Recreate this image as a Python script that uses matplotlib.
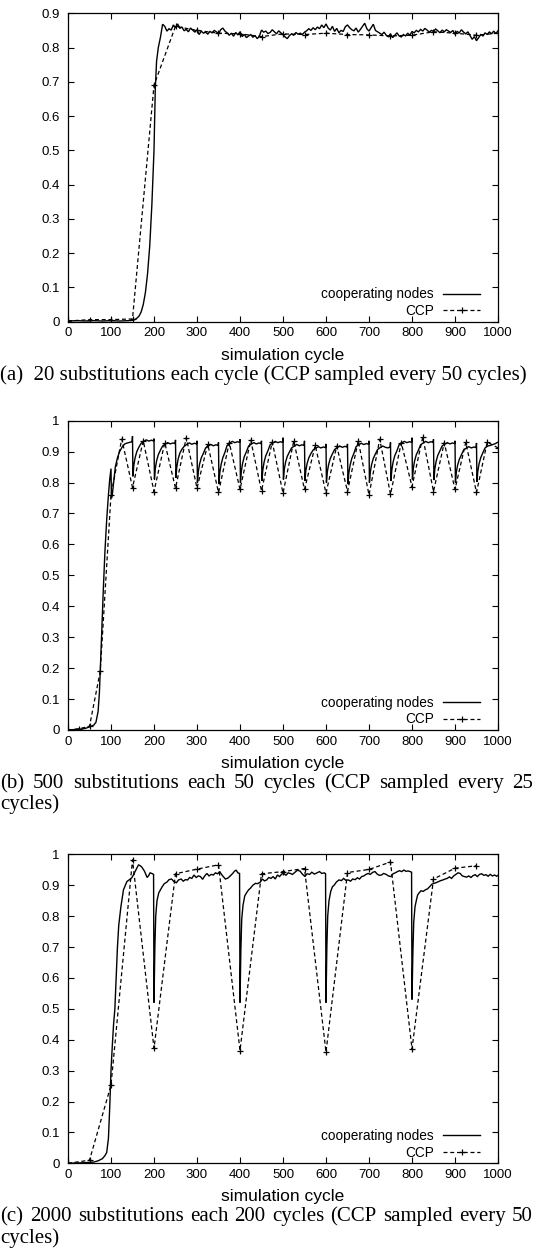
import matplotlib
matplotlib.use("Agg")
import matplotlib.pyplot as plt

# ---------------- data ----------------
x_ticks = [0, 100, 200, 300, 400, 500, 600, 700, 800, 900, 1000]
x_tick_labels = ["0", "100", "200", "300", "400", "500", "600", "700", "800", "900", "1000"]
y_ticks_a = [0, 0.1, 0.2, 0.3, 0.4, 0.5, 0.6, 0.7, 0.8, 0.9]
y_tick_labels_a = ["0", "0.1", "0.2", "0.3", "0.4", "0.5", "0.6", "0.7", "0.8", "0.9"]
y_ticks_bc = [0, 0.1, 0.2, 0.3, 0.4, 0.5, 0.6, 0.7, 0.8, 0.9, 1.0]
y_tick_labels_bc = ["0", "0.1", "0.2", "0.3", "0.4", "0.5", "0.6", "0.7", "0.8", "0.9", "1"]

series_labels = ["cooperating nodes", "CCP"]
x_label = "simulation cycle"
captions = [
    ["(a)  20 substitutions each cycle (CCP sampled every 50 cycles)"],
    ["(b)  500 substitutions each 50 cycles (CCP sampled every 25", "cycles)"],
    ["(c)  2000 substitutions each 200 cycles (CCP sampled every 50", "cycles)"],
]

# panel (a): cooperating nodes
a_rise_x = [0, 20, 40, 60, 80, 100, 120, 140, 150, 155, 160, 165, 170, 175, 180, 185,
            190, 195, 200, 203, 206, 210, 215, 220]
a_rise_y = [0.002, 0.003, 0.002, 0.003, 0.002, 0.003, 0.002, 0.003, 0.004, 0.006, 0.010,
            0.016, 0.028, 0.050, 0.085, 0.140, 0.220, 0.340, 0.500, 0.680, 0.760, 0.800,
            0.830, 0.868]
a_plateau_x = list(range(225, 1001, 5))
a_plateau_y = [
    0.862, 0.848, 0.855, 0.851, 0.866, 0.858, 0.869, 0.856, 0.860, 0.849,
    0.853, 0.846, 0.857, 0.851, 0.845, 0.852, 0.838, 0.848, 0.842, 0.845,
    0.839, 0.847, 0.843, 0.850, 0.846, 0.840, 0.852, 0.857, 0.848, 0.843,
    0.836, 0.842, 0.833, 0.844, 0.837, 0.846, 0.832, 0.838, 0.829, 0.834,
    0.838, 0.830, 0.835, 0.826, 0.833, 0.851, 0.845, 0.848, 0.841, 0.844,
    0.852, 0.846, 0.840, 0.849, 0.843, 0.838, 0.831, 0.826, 0.835, 0.840,
    0.836, 0.844, 0.839, 0.842, 0.838, 0.845, 0.849, 0.855, 0.850, 0.858,
    0.852, 0.860, 0.855, 0.866, 0.858, 0.869, 0.857, 0.851, 0.862, 0.847,
    0.856, 0.843, 0.850, 0.847, 0.861, 0.866, 0.858, 0.852, 0.849, 0.857,
    0.845, 0.853, 0.862, 0.871, 0.855, 0.848, 0.858, 0.868, 0.850, 0.846,
    0.842, 0.838, 0.845, 0.836, 0.832, 0.840, 0.829, 0.836, 0.843, 0.834,
    0.831, 0.838, 0.834, 0.842, 0.836, 0.847, 0.843, 0.850, 0.846, 0.853,
    0.848, 0.856, 0.851, 0.845, 0.850, 0.847, 0.854, 0.849, 0.843, 0.851,
    0.846, 0.852, 0.848, 0.844, 0.850, 0.839, 0.847, 0.843, 0.852, 0.845,
    0.840, 0.846, 0.835, 0.824, 0.832, 0.820, 0.829, 0.838, 0.834, 0.843,
    0.838, 0.846, 0.840, 0.848, 0.841, 0.849,
]
# panel (a): CCP sampled every 50 cycles
a_ccp_x = [0, 50, 100, 150, 200, 250, 300, 350, 400, 450, 500, 550, 600, 650, 700,
           750, 800, 850, 900, 950, 1000]
a_ccp_y = [0.002, 0.006, 0.006, 0.008, 0.690, 0.862, 0.850, 0.842, 0.840, 0.832, 0.840,
           0.838, 0.842, 0.838, 0.837, 0.834, 0.836, 0.846, 0.842, 0.836, 0.842]

# panel (b): cooperating nodes
b_start_x = [0, 10, 20, 30, 40, 50, 55, 60, 65, 70, 73, 75, 78, 82, 86, 90, 94, 97,
             100, 101, 103, 106, 110, 115, 120, 126, 132, 138, 144, 149]
b_start_y = [0.000, 0.001, 0.002, 0.003, 0.005, 0.010, 0.013, 0.016, 0.025, 0.060,
             0.120, 0.190, 0.300, 0.450, 0.580, 0.680, 0.760, 0.810, 0.845, 0.750,
             0.760, 0.800, 0.850, 0.880, 0.900, 0.915, 0.925, 0.928, 0.930, 0.932]
b_period_start = [150, 200, 250, 300, 350, 400, 450, 500, 550, 600, 650, 700, 750, 800,
                  850, 900, 950]
b_period_offset = [0, 1, 3, 6, 10, 15, 20, 26, 32, 38, 44, 49]
b_period_y = [
    [0.950, 0.820, 0.855, 0.880, 0.900, 0.915, 0.927, 0.933, 0.938, 0.934, 0.937, 0.935],
    [0.942, 0.810, 0.845, 0.870, 0.890, 0.905, 0.918, 0.924, 0.929, 0.925, 0.928, 0.926],
    [0.938, 0.815, 0.850, 0.875, 0.895, 0.908, 0.917, 0.923, 0.928, 0.924, 0.927, 0.925],
    [0.935, 0.800, 0.835, 0.860, 0.880, 0.895, 0.912, 0.918, 0.923, 0.919, 0.922, 0.920],
    [0.930, 0.795, 0.832, 0.858, 0.880, 0.898, 0.920, 0.928, 0.933, 0.929, 0.932, 0.930],
    [0.940, 0.800, 0.836, 0.862, 0.884, 0.900, 0.918, 0.924, 0.929, 0.925, 0.928, 0.926],
    [0.935, 0.805, 0.840, 0.866, 0.887, 0.903, 0.922, 0.928, 0.933, 0.929, 0.932, 0.930],
    [0.945, 0.810, 0.843, 0.866, 0.885, 0.899, 0.912, 0.918, 0.923, 0.919, 0.922, 0.920],
    [0.935, 0.805, 0.838, 0.861, 0.880, 0.894, 0.905, 0.911, 0.916, 0.912, 0.915, 0.913],
    [0.925, 0.800, 0.834, 0.858, 0.878, 0.893, 0.907, 0.913, 0.918, 0.914, 0.917, 0.915],
    [0.925, 0.795, 0.830, 0.856, 0.878, 0.895, 0.916, 0.922, 0.927, 0.923, 0.926, 0.924],
    [0.935, 0.800, 0.834, 0.858, 0.878, 0.893, 0.907, 0.913, 0.918, 0.914, 0.912, 0.915],
    [0.930, 0.805, 0.840, 0.866, 0.887, 0.903, 0.922, 0.928, 0.933, 0.929, 0.932, 0.930],
    [0.945, 0.810, 0.845, 0.870, 0.890, 0.905, 0.922, 0.928, 0.933, 0.929, 0.932, 0.930],
    [0.940, 0.808, 0.843, 0.868, 0.888, 0.903, 0.918, 0.924, 0.929, 0.925, 0.928, 0.926],
    [0.935, 0.800, 0.833, 0.856, 0.875, 0.890, 0.905, 0.911, 0.916, 0.912, 0.915, 0.913],
    [0.928, 0.802, 0.836, 0.861, 0.881, 0.897, 0.912, 0.918, 0.920, 0.923, 0.926, 0.930],
]
# panel (b): CCP sampled every 25 cycles
b_ccp_x = [0, 25, 50, 75, 100, 125, 150, 175, 200, 225, 250, 275, 300, 325, 350, 375,
           400, 425, 450, 475, 500, 525, 550, 575, 600, 625, 650, 675, 700, 725, 750,
           775, 800, 825, 850, 875, 900, 925, 950, 975, 1000]
b_ccp_y = [0.000, 0.004, 0.012, 0.190, 0.760, 0.941, 0.784, 0.935, 0.771, 0.929, 0.782,
           0.945, 0.782, 0.924, 0.768, 0.929, 0.778, 0.937, 0.773, 0.931, 0.766, 0.934,
           0.778, 0.920, 0.766, 0.918, 0.771, 0.935, 0.760, 0.940, 0.762, 0.929, 0.787,
           0.947, 0.771, 0.929, 0.778, 0.930, 0.768, 0.931, 0.912]

# panel (c): cooperating nodes
c_x = [0, 20, 40, 60, 70, 80, 86, 90, 94, 97, 100, 103, 106, 109, 112, 115, 118, 123,
       129, 137, 143, 149, 156, 160, 164, 168, 172, 178, 184, 188, 191, 195, 199,
       200, 202, 204, 207, 211, 215, 219, 224, 230, 235, 241, 246, 252, 257, 263, 268,
       273, 278, 283, 288, 293, 298, 303, 308, 313, 318, 323, 328, 333, 338, 343, 348,
       353, 357, 361, 366, 372, 377, 383, 387, 391, 395, 399,
       400, 402, 404, 407, 411, 415, 420, 424, 430, 436, 441, 447, 452, 457, 462, 467,
       472, 477, 482, 487, 492, 497, 502, 507, 512, 517, 522, 528, 534, 540, 545, 551,
       556, 562, 567, 573, 579, 585, 590, 596, 599,
       600, 602, 604, 607, 611, 615, 619, 624, 630, 636, 641, 646, 652, 657, 662, 668,
       673, 678, 683, 688, 693, 698, 703, 709, 714, 719, 724, 729, 734, 740, 745, 751,
       756, 761, 766, 771, 776, 781, 786, 791, 796, 799,
       800, 802, 804, 807, 810, 813, 817, 821, 826, 831, 836, 841, 846, 851, 856, 862,
       867, 872, 877, 882, 887, 892, 897, 902, 907, 912, 917, 922, 927, 932, 937, 942,
       947, 952, 957, 962, 967, 972, 977, 982, 987, 992, 997, 1000]
c_y = [0.000, 0.001, 0.002, 0.004, 0.008, 0.015, 0.025, 0.035, 0.080, 0.180, 0.300,
       0.380, 0.450, 0.500, 0.600, 0.700, 0.770, 0.830, 0.885, 0.912, 0.918, 0.925,
       0.944, 0.955, 0.966, 0.963, 0.958, 0.945, 0.925, 0.932, 0.940, 0.938, 0.935,
       0.520, 0.700, 0.800, 0.850, 0.875, 0.885, 0.895, 0.905, 0.910, 0.918, 0.920,
       0.912, 0.908, 0.917, 0.920, 0.913, 0.918, 0.917, 0.925, 0.922, 0.933, 0.925,
       0.930, 0.928, 0.919, 0.930, 0.938, 0.930, 0.935, 0.933, 0.940, 0.937, 0.944,
       0.935, 0.928, 0.920, 0.923, 0.930, 0.938, 0.945, 0.949, 0.940, 0.938,
       0.520, 0.690, 0.790, 0.835, 0.865, 0.875, 0.885, 0.890, 0.900, 0.906, 0.905,
       0.910, 0.920, 0.914, 0.917, 0.925, 0.922, 0.928, 0.920, 0.933, 0.928, 0.936,
       0.938, 0.932, 0.940, 0.938, 0.935, 0.942, 0.949, 0.945, 0.936, 0.928, 0.937,
       0.935, 0.942, 0.936, 0.940, 0.944, 0.938, 0.940, 0.937,
       0.520, 0.700, 0.800, 0.850, 0.880, 0.895, 0.900, 0.910, 0.917, 0.915, 0.922,
       0.916, 0.917, 0.913, 0.920, 0.918, 0.924, 0.920, 0.928, 0.930, 0.935, 0.938,
       0.935, 0.942, 0.944, 0.936, 0.932, 0.933, 0.938, 0.935, 0.930, 0.928, 0.937,
       0.940, 0.944, 0.947, 0.944, 0.949, 0.945, 0.946, 0.944, 0.942,
       0.530, 0.680, 0.780, 0.830, 0.850, 0.868, 0.876, 0.882, 0.880, 0.885, 0.888,
       0.895, 0.903, 0.906, 0.908, 0.912, 0.915, 0.917, 0.920, 0.922, 0.927, 0.922,
       0.930, 0.935, 0.940, 0.938, 0.930, 0.928, 0.926, 0.930, 0.925, 0.931, 0.934,
       0.928, 0.935, 0.937, 0.932, 0.934, 0.929, 0.935, 0.930, 0.933, 0.929, 0.932]
# panel (c): CCP sampled every 50 cycles
c_ccp_x = [0, 50, 100, 150, 200, 250, 300, 350, 400, 450, 500, 550, 600, 650, 700, 750,
           800, 850, 900, 950]
c_ccp_y = [0.000, 0.010, 0.253, 0.982, 0.372, 0.937, 0.952, 0.966, 0.365, 0.937, 0.944,
           0.954, 0.360, 0.941, 0.951, 0.975, 0.370, 0.920, 0.955, 0.963]

# ---------------- assemble series ----------------
a_x = a_rise_x + a_plateau_x
a_y = a_rise_y + a_plateau_y
b_x = list(b_start_x)
b_y = list(b_start_y)
for s, row in zip(b_period_start, b_period_y):
    for off, v in zip(b_period_offset, row):
        b_x.append(min(s + off, 1000))
        b_y.append(v)

panels = [
    (a_x, a_y, a_ccp_x, a_ccp_y, 0.9, y_ticks_a, y_tick_labels_a),
    (b_x, b_y, b_ccp_x, b_ccp_y, 1.0, y_ticks_bc, y_tick_labels_bc),
    (c_x, c_y, c_ccp_x, c_ccp_y, 1.0, y_ticks_bc, y_tick_labels_bc),
]

# ---------------- layout (pixels) ----------------
W, H = 540, 1255
left_px, right_px = 68, 498
boxes = [(13.3, 321.7), (420.7, 730.0), (854.3, 1163.3)]  # (top, bottom)
cap_left_px, cap_right_px = 0.5, 533.0

sans = ["Liberation Sans", "DejaVu Sans"]
serif = ["Liberation Serif", "DejaVu Serif"]

fig = plt.figure(figsize=(W / 100, H / 100), dpi=100)
renderer = fig.canvas.get_renderer()


def justified_line(text, y_px, justify):
    words = text.split()
    if not justify or len(words) < 2:
        fig.text(cap_left_px / W, 1 - y_px / H, text, ha="left", va="baseline",
                 family=serif, fontsize=15)
        return
    objs = [fig.text(0, 1 - y_px / H, w, ha="left", va="baseline",
                     family=serif, fontsize=15) for w in words]
    widths = [o.get_window_extent(renderer).width for o in objs]
    gap = (cap_right_px - cap_left_px - sum(widths)) / (len(words) - 1)
    xpos = cap_left_px
    for o, wdt in zip(objs, widths):
        o.set_x(xpos / W)
        xpos += wdt + gap


for (xs, ys, cx, cy, ymax, yt, ytl), (top, bot), cap in zip(panels, boxes, captions):
    ax = fig.add_axes([left_px / W, 1 - bot / H, (right_px - left_px) / W, (bot - top) / H])
    ax.plot(xs, ys, color="black", lw=1.0, solid_joinstyle="miter",
            label=series_labels[0])
    ax.plot(cx, cy, color="black", lw=0.9, linestyle=(0, (3.2, 2.2)),
            marker="+", markersize=4.5, markeredgewidth=0.9, label=series_labels[1])
    ax.set_xlim(0, 1000)
    ax.set_ylim(0, ymax)
    ax.set_xticks(x_ticks)
    ax.set_xticklabels(x_tick_labels, family=sans, fontsize=9.5)
    ax.set_yticks(yt)
    ax.set_yticklabels(ytl, family=sans, fontsize=9.5)
    ax.tick_params(direction="in", length=4, width=0.8, top=True, right=True,
                   color="black")
    ax.tick_params(axis="x", pad=4)
    ax.tick_params(axis="y", pad=6)
    for sp in ax.spines.values():
        sp.set_linewidth(0.9)
    ax.legend(loc="lower right", bbox_to_anchor=(0.958, 0.012),
              markerfirst=False, frameon=False, handlelength=2.7,
              handletextpad=0.7, borderpad=0, borderaxespad=0,
              labelspacing=0.2, numpoints=1,
              prop={"family": sans, "size": 9.8})
    cxp = (left_px + right_px) / 2
    fig.text(cxp / W, 1 - (bot + 33.5) / H, x_label, ha="center", va="center",
             family=sans, fontsize=12.5)
    for i, line in enumerate(cap):
        justified_line(line, bot + 58 + 21.5 * i, justify=(i < len(cap) - 1))

fig.savefig("out.png", dpi=100)
